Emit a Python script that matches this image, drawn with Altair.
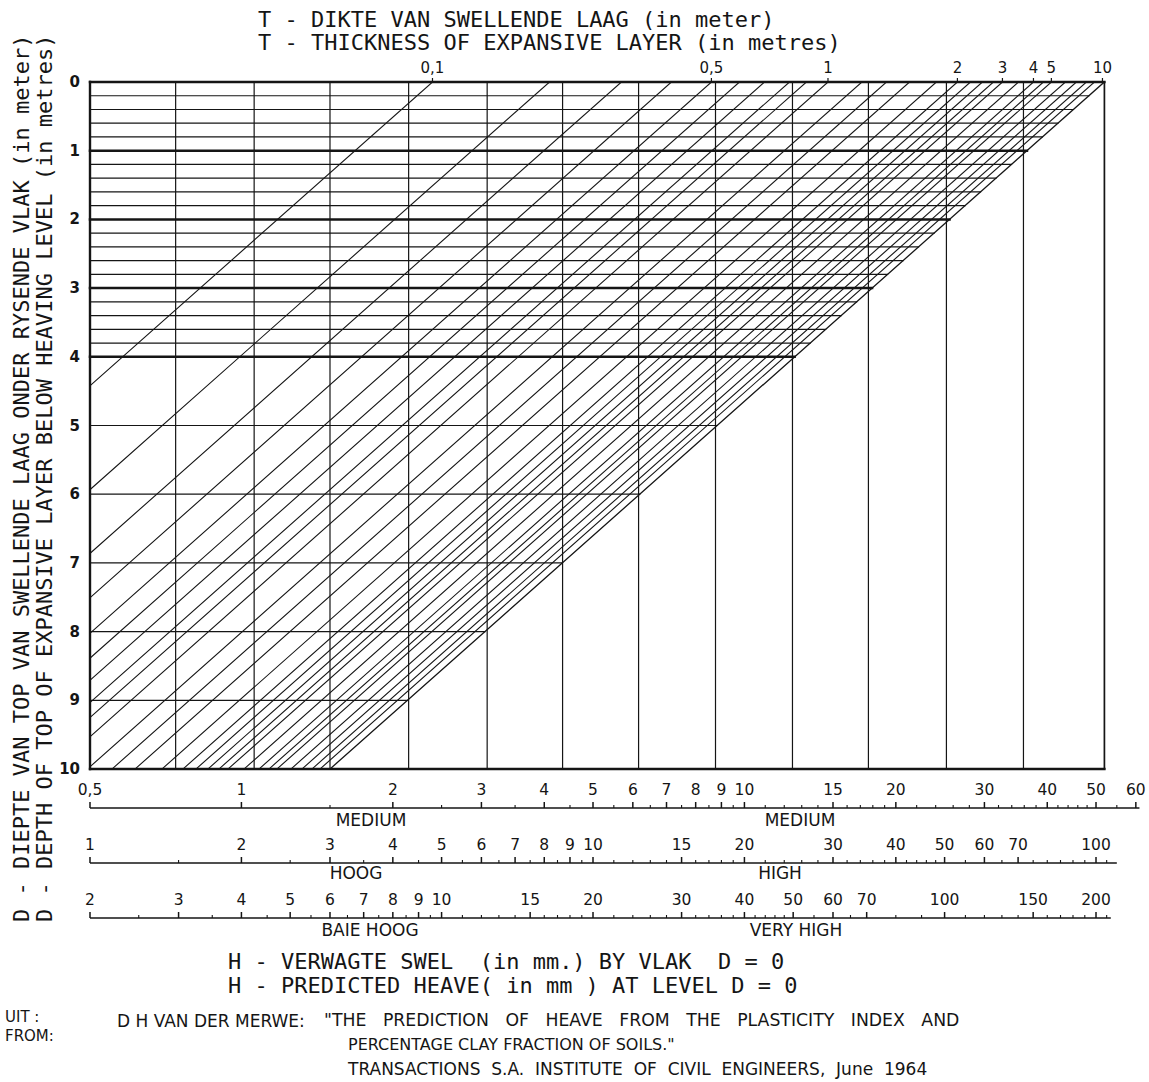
import math
import altair as alt
import pandas as pd

# ---------------------------------------------------------------------------
# Van der Merwe heave nomograph
#   x : predicted heave H at level D = 0 (mm, "medium" scale, logarithmic)
#   y : depth D of the top of the expansive layer (m)
# ---------------------------------------------------------------------------

H_MIN, H_MAX = 0.5, 62.0          # extent of the heave scale (medium class)
D_MAX = 10

# limiting diagonal: right edge of the grid at D = 0 and where it reaches D = 10
H_EDGE = 51.96
H_EDGE_BOTTOM = 1.50

# vertical grid lines (heave, mm, medium scale)
V_LINES = [35.87, 25.21, 17.64, 12.46, 8.76, 6.16, 4.35, 3.08, 2.15, 1.50, 1.06, 0.74]

# horizontal lines (depth, m)
FINE_D = [0.2, 0.4, 0.6, 0.8, 1.2, 1.4, 1.6, 1.8, 2.2, 2.4, 2.6, 2.8,
          3.2, 3.4, 3.6, 3.8]
MAJOR_D = [1, 2, 3, 4]
COARSE_D = [5, 6, 7, 8, 9]

# thickness lines: heave at D = 0 where each diagonal starts
# (T = 0.1 ... 1.0, 1.2 ... 2.0, 2.25 ... 3.0, 3.5, 4, 4.5, 5, 6 ... 9 m)
DIAG_H0 = [2.398, 4.097, 5.694, 7.158, 8.598, 9.774, 10.96, 12.29, 13.28, 14.66,
           17.12, 19.16, 21.29, 24.08, 26.51, 28.14, 29.72, 31.26, 32.58,
           35.06, 37.55, 39.30, 40.76, 43.46, 45.71, 47.85, 49.64]

# T scale along the top edge
T_LABELS = ["0,1", "0,5", "1", "2", "3", "4", "5", "10"]
T_LABEL_H = [2.398, 8.598, 14.66, 26.51, 32.58, 37.55, 40.76, 51.5]

# depth labels
D_LABELS = list(range(0, 11))

# heave scales under the grid: major ticks, minor ticks, extent of the line
MEDIUM_MAJOR = [0.5, 1, 2, 3, 4, 5, 6, 7, 8, 9, 10, 15, 20, 30, 40, 50, 60]
MEDIUM_MINOR = [1.5, 2.5, 3.5, 4.5, 5.5, 6.5, 7.5, 8.5, 9.5, 11, 12, 13, 14,
                16, 17, 18, 19, 22, 24, 26, 28, 32, 34, 36, 38, 42, 44, 46, 48, 55]
MEDIUM_END = [0.5, 61.0]

HIGH_MAJOR = [1, 2, 3, 4, 5, 6, 7, 8, 9, 10, 15, 20, 30, 40, 50, 60, 70, 100]
HIGH_MINOR = [1.5, 2.5, 3.5, 4.5, 5.5, 6.5, 7.5, 8.5, 9.5, 11, 12, 13, 14, 16,
              17, 18, 19, 22, 24, 26, 28, 32, 34, 36, 38, 42, 44, 46, 48, 55,
              65, 75, 80, 85, 90, 95, 105]
HIGH_END = [1, 110]

VHIGH_MAJOR = [2, 3, 4, 5, 6, 7, 8, 9, 10, 15, 20, 30, 40, 50, 60, 70, 100, 150, 200]
VHIGH_MINOR = [2.5, 3.5, 4.5, 5.5, 6.5, 7.5, 8.5, 9.5, 11, 12, 13, 14, 16, 17,
               18, 19, 22, 24, 26, 28, 32, 34, 36, 38, 42, 44, 46, 48, 55, 65,
               80, 90, 110, 120, 130, 140, 160, 170, 180, 190, 210]
VHIGH_END = [2, 214]

# ---------------------------------------------------------------------------
# layout (pixels)
PAD_L, PAD_T, PAD_R, PAD_B = 90, 82, 6, 313
W, H = 1053, 687
INK = "#151515"
FONT = "DejaVu Sans"
TITLE_FONT = "DejaVu Sans Mono"
NB = "\u00a0"   # non-collapsing space for the wide word gaps of the lettering

# ---------------------------------------------------------------------------
# grid geometry in data units
L_DEC = (math.log10(H_EDGE) - math.log10(H_EDGE_BOTTOM)) / D_MAX   # decades per metre


def edge_h(d):
    """Heave on the limiting diagonal at depth d."""
    return H_EDGE * 10 ** (-L_DEC * d)


rows = []


def seg(h1, h2, d1, d2, w):
    rows.append({"h1": h1, "h2": h2, "d1": d1, "d2": d2, "w": w})


# frame
seg(H_MIN, H_EDGE, 0, 0, 2.4)
seg(H_MIN, H_EDGE, D_MAX, D_MAX, 2.4)
seg(H_MIN, H_MIN, 0, D_MAX, 2.4)
seg(H_EDGE, H_EDGE, 0, D_MAX, 1.7)

for h in V_LINES:
    seg(h, h, 0, D_MAX, 1.2)
for d in FINE_D + COARSE_D:
    seg(H_MIN, edge_h(d), d, d, 1.2)
for d in MAJOR_D:
    seg(H_MIN, edge_h(d), d, d, 2.5)

# diagonals: parallel to the limiting line, cut at the left edge or at D = 10
for h0 in DIAG_H0:
    d_left = math.log10(h0 / H_MIN) / L_DEC
    if d_left >= D_MAX:
        seg(h0, h0 * 10 ** (-L_DEC * D_MAX), 0, D_MAX, 1.1)
    else:
        seg(h0, H_MIN, 0, d_left, 1.1)
seg(H_EDGE, H_EDGE_BOTTOM, 0, D_MAX, 1.3)

lines = pd.DataFrame(rows)

xs = alt.Scale(type="log", domain=[H_MIN, H_MAX], nice=False)
ys = alt.Scale(domain=[0, D_MAX], nice=False, zero=False, reverse=True)

grid = alt.Chart(lines).mark_rule(color=INK, strokeCap="square").encode(
    x=alt.X("h1:Q", scale=xs, axis=None),
    x2="h2:Q",
    y=alt.Y("d1:Q", scale=ys, axis=None),
    y2="d2:Q",
    strokeWidth=alt.StrokeWidth("w:Q", scale=None, legend=None),
)

# T scale on top
t_df = pd.DataFrame({"h": T_LABEL_H, "label": T_LABELS})
t_ticks = alt.Chart(t_df).mark_rule(color=INK, strokeWidth=1.2).encode(
    x=alt.X("h:Q", scale=xs, axis=None), y=alt.value(-4), y2=alt.value(0))
t_text = alt.Chart(t_df).mark_text(font=FONT, fontSize=15, color=INK,
                                   baseline="middle", align="center").encode(
    x=alt.X("h:Q", scale=xs, axis=None), y=alt.value(-14), text="label:N")

# D labels on the left
d_df = pd.DataFrame({"d": D_LABELS, "label": [str(v) for v in D_LABELS]})
d_text = alt.Chart(d_df).mark_text(font=FONT, fontSize=15, fontWeight="bold",
                                   color=INK, align="right", baseline="middle").encode(
    x=alt.value(-10), y=alt.Y("d:Q", scale=ys, axis=None), text="label:N")


def fmt(v):
    return ("%g" % v).replace(".", ",")


def heave_scale(major, minor, end, factor, y_line):
    """One logarithmic heave scale drawn on the shared medium-class axis."""
    maj = pd.DataFrame({"pos": [v / factor for v in major],
                        "label": [fmt(v) for v in major]})
    mnr = pd.DataFrame({"pos": [v / factor for v in minor]})
    ln = pd.DataFrame({"a": [end[0] / factor], "b": [end[1] / factor]})
    base = alt.Chart(ln).mark_rule(color=INK, strokeWidth=1.7).encode(
        x=alt.X("a:Q", scale=xs, axis=None), x2="b:Q", y=alt.value(y_line))
    t_major = alt.Chart(maj).mark_rule(color=INK, strokeWidth=1.5).encode(
        x=alt.X("pos:Q", scale=xs, axis=None),
        y=alt.value(y_line - 6), y2=alt.value(y_line))
    t_minor = alt.Chart(mnr).mark_rule(color=INK, strokeWidth=1.1).encode(
        x=alt.X("pos:Q", scale=xs, axis=None),
        y=alt.value(y_line - 3), y2=alt.value(y_line))
    txt = alt.Chart(maj).mark_text(font=FONT, fontSize=15.5, color=INK,
                                   align="center", baseline="middle").encode(
        x=alt.X("pos:Q", scale=xs, axis=None), y=alt.value(y_line - 18),
        text="label:N")
    return [base, t_major, t_minor, txt]


scales = (heave_scale(MEDIUM_MAJOR, MEDIUM_MINOR, MEDIUM_END, 1, 726)
          + heave_scale(HIGH_MAJOR, HIGH_MINOR, HIGH_END, 2, 781)
          + heave_scale(VHIGH_MAJOR, VHIGH_MINOR, VHIGH_END, 4, 836))


def note(text, x, y, size=15, align="left", angle=0, font=FONT, gap=1):
    """Free text placed in pixel coordinates relative to the grid origin."""
    if gap > 1:
        text = text.replace(" ", " " + NB * (gap - 1))
    return alt.Chart(pd.DataFrame({"t": [text]})).mark_text(
        font=font, fontSize=size, color=INK, align=align, baseline="middle",
        angle=angle).encode(
        x=alt.value(x), y=alt.value(y), text="t:N")


notes = [
    # class names under the scales
    note("MEDIUM", 281, 739, size=17, align="center"),
    note("MEDIUM", 710, 739, size=17, align="center"),
    note("HOOG", 266, 792, size=17, align="center"),
    note("HIGH", 690, 792, size=17, align="center"),
    note("BAIE HOOG", 280, 849, size=17, align="center"),
    note("VERY HIGH", 706, 849, size=17, align="center"),
    # axis titles
    note("T - DIKTE VAN SWELLENDE LAAG (in meter)", 168, -62, size=22, font=TITLE_FONT),
    note("T - THICKNESS OF EXPANSIVE LAYER (in metres)", 168, -39, size=22,
         font=TITLE_FONT),
    note("H - VERWAGTE SWEL" + NB + " (in mm.) BY VLAK" + NB + " D = 0", 138, 880,
         size=22, font=TITLE_FONT),
    note("H - PREDICTED HEAVE( in mm ) AT LEVEL D = 0", 138, 904, size=22,
         font=TITLE_FONT),
    note("D - DIEPTE VAN TOP VAN SWELLENDE LAAG ONDER RYSENDE VLAK (in meter)",
         -68, 840, size=22, angle=270, font=TITLE_FONT),
    note("D - DEPTH OF TOP OF EXPANSIVE LAYER BELOW HEAVING LEVEL (in metres)",
         -45, 840, size=22, angle=270, font=TITLE_FONT),
    # source
    note("UIT :", -85, 935, size=15),
    note("FROM:", -85, 954, size=15),
    note("D H VAN DER MERWE:", 27, 940, size=17),
    note("\"THE PREDICTION OF HEAVE FROM THE PLASTICITY INDEX AND",
         234, 939, size=17.3, gap=3),
    note("PERCENTAGE CLAY FRACTION OF SOILS.\"", 258, 963, size=16),
    note("TRANSACTIONS S.A. INSTITUTE OF CIVIL ENGINEERS, June 1964", 258, 988,
         size=17, gap=2),
]

chart = alt.layer(grid, t_ticks, t_text, d_text, *scales, *notes).properties(
    width=W, height=H,
    autosize=alt.AutoSizeParams(type="none"),
    padding={"left": PAD_L, "top": PAD_T, "right": PAD_R, "bottom": PAD_B},
    background="white",
).configure_view(stroke=None)

chart.save("out.html", embed_options={"renderer": "svg", "actions": False})
